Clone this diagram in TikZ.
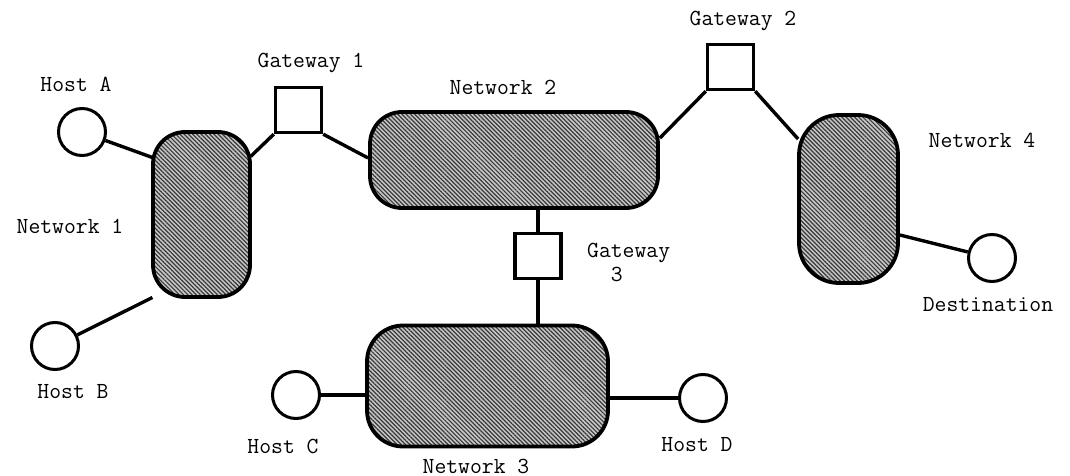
\documentclass[tikz,border=0pt]{standalone}
\usepackage{fontspec}
\usetikzlibrary{patterns.meta}
\tikzset{
  netbox/.style={draw, line width=3.8pt, inner sep=0pt,
    preaction={fill=black!22},
    pattern={Lines[angle=-45,distance=3pt,line width=1.2pt]},
    pattern color=black!78},
  hostnode/.style={draw, circle, line width=3pt, minimum size=47pt, inner sep=0pt, fill=white},
  gwbox/.style={draw, rectangle, line width=3.4pt, minimum width=46pt, minimum height=45pt, inner sep=0pt, fill=white},
  link/.style={line width=3.4pt},
  lbl/.style={font=\ttfamily\fontsize{23}{24}\selectfont, inner sep=0pt}
}
\begin{document}
\begin{tikzpicture}[x=1pt,y=-1pt]
\useasboundingbox (0,0) rectangle (1070,476);

% networks
\node[netbox, rounded corners=32pt, minimum width=97pt, minimum height=165pt] (net1) at (201.5,214.5) {};
\node[netbox, rounded corners=32pt, minimum width=288pt, minimum height=96pt] (net2) at (514,160) {};
\node[netbox, rounded corners=36pt, minimum width=241pt, minimum height=121pt] (net3) at (487.5,386) {};
\node[netbox, rounded corners=40pt, minimum width=99pt, minimum height=168pt] (net4) at (848.5,199) {};

% gateways
\node[gwbox] (gw1) at (298.5,110) {};
\node[gwbox] (gw2) at (730.5,67) {};
\node[gwbox] (gw3) at (538,256) {};

% hosts
\node[hostnode] (hostA) at (82,132) {};
\node[hostnode] (hostB) at (55,346) {};
\node[hostnode] (hostC) at (296,395) {};
\node[hostnode] (hostD) at (703,398) {};
\node[hostnode] (dest) at (992,258) {};

% links
\draw[link] (hostA) -- ([yshift=57pt]net1.west);
\draw[link] (hostB) -- ([yshift=-83pt]net1.west);
\draw[link] ([yshift=58pt]net1.east) -- (gw1.south west);
\draw[link] (gw1.south east) -- ([yshift=2pt]net2.west);
\draw[link] ([yshift=22pt]net2.east) -- (gw2.south west);
\draw[link] (gw2.south east) -- ([yshift=60pt,xshift=1pt]net4.west);
\draw[link] ([yshift=-36pt]net4.east) -- (dest);
\draw[link] (gw3.north) -- (gw3.north |- net2.south);
\draw[link] (gw3.south) -- (gw3.south |- net3.north);
\draw[link] (hostC.east) -- (hostC.east -| net3.west);
\draw[link] (hostD.west) -- (hostD.west -| net3.east);

% labels
\node[lbl] (lhostA) at (76,84) {Host A};
\node[lbl] (lnet1) at (70,226) {Network 1};
\node[lbl] (lhostB) at (73,392) {Host B};
\node[lbl] (lgw1) at (311,63) {Gateway 1};
\node[lbl] (lnet2) at (503,87) {Network 2};
\node[lbl] (lgw2) at (743,21) {Gateway 2};
\node[lbl] (lnet4) at (982,140) {Network 4};
\node[lbl] (ldest) at (988,305) {Destination};
\node[lbl, align=left, anchor=north west] (lgw3) at (587,243) {Gateway\\\hphantom{Ga}3};
\node[lbl] (lhostC) at (283,446) {Host C};
\node[lbl] (lnet3) at (476,466) {Network 3};
\node[lbl] (lhostD) at (697,445) {Host D};
\end{tikzpicture}
\end{document}
